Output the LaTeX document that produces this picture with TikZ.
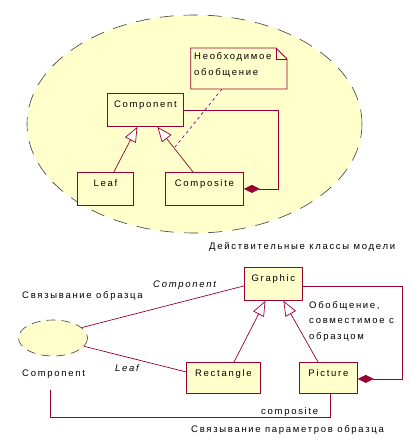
\documentclass[tikz,border=0pt]{standalone}
\usepackage{fontspec}
\setmainfont{Liberation Sans}[LetterSpace=18]
\usetikzlibrary{arrows.meta,shapes.geometric}
\definecolor{umlred}{RGB}{150,0,50}
\definecolor{umlfill}{RGB}{255,255,204}
\definecolor{edge}{RGB}{60,60,60}
\tikzset{
  cls/.style={draw=umlred, fill=umlfill, line width=0.8pt, inner xsep=0pt, inner ysep=0pt,
     text height=14pt, font=\fontsize{9.5}{11}\selectfont, anchor=north west},
  lnk/.style={draw=umlred, line width=0.7pt},
  gen/.style={lnk, -{Triangle[open, fill=white, length=15pt, width=12pt]}},
  compo/.style={lnk, {Diamond[fill=umlred, length=16pt, width=8pt]}-},
  txt/.style={font=\fontsize{9.5}{11}\selectfont, inner sep=0pt},
  itxt/.style={font=\fontsize{9.5}{11}\selectfont\itshape, inner sep=0pt},
}
\begin{document}
\begin{tikzpicture}[x=1pt,y=-1pt]
\useasboundingbox (0,0) rectangle (411,441);
% big ellipse
\fill[umlfill] (194.5,124) ellipse[x radius=167.5, y radius=109];
\draw[edge, line width=0.6pt, dash pattern=on 14pt off 10pt] (194.5,124) ellipse[x radius=167.5, y radius=109];
% note
\draw[umlred, line width=0.8pt, fill=umlfill] (190.7,48) -- (276,48) -- (287,59) -- (287,89) -- (190.7,89) -- cycle;
\draw[umlred, line width=0.6pt] (276,48) -- (276,59) -- (287,59);
\node[txt, anchor=north west, align=left, font=\fontsize{9.5}{16}\selectfont] (note) at (194,52.5) {Необходимое\\обобщение};
\coordinate (notebot) at (222,89);
% classes top
\node[cls, minimum width=76pt, minimum height=33pt, text depth=19pt] (component) at (107,93) {Component};
\node[cls, minimum width=56pt, minimum height=32pt, text depth=19pt] (leaf) at (77,172) {Leaf};
\node[cls, minimum width=78pt, minimum height=32pt, text depth=19pt] (composite) at (165,172) {Composite};
\coordinate (c1) at (278,0);
\coordinate (dashend) at (175,147);
\draw[white, line width=1.4pt] (notebot) -- (dashend);
\draw[umlred, line width=0.7pt, dash pattern=on 3pt off 3pt] (notebot) -- (dashend);
\draw[gen] ([xshift=-20pt]leaf.north east) -- ([xshift=-8pt]component.south);
\draw[gen] ([xshift=28pt]composite.north west) -- ([xshift=12pt]component.south);
\draw[compo] (composite.east) -- (composite.east -| c1) |- (component.east);
\node[txt, anchor=base west] (cap1) at (209,249) {Действительные классы модели};
% bottom part
\node[cls, minimum width=58pt, minimum height=33pt, text depth=19pt] (graphic) at (244,267) {Graphic};
\node[cls, minimum width=74pt, minimum height=31pt, text depth=17pt] (rect) at (186,362) {Rectangle};
\node[cls, minimum width=58pt, minimum height=31pt, text depth=17pt] (picture) at (299,362) {Picture};
\node[ellipse, minimum width=69pt, minimum height=36pt, fill=umlfill, inner sep=0pt] (param) at (53,338) {};
\draw[edge, line width=0.6pt, dash pattern=on 9pt off 6pt] (53,338) ellipse[x radius=34.5, y radius=18];
\node[txt, anchor=base west] (plabel) at (22,376) {Component};
\node[txt, anchor=base west] (bind1) at (22,298) {Связывание образца};
\node[itxt, anchor=base west] (rolec) at (153,287) {Component};
\node[itxt, anchor=base west] (rolel) at (115,371) {Leaf};
\draw[lnk] (param.20) -- ([yshift=-2pt]graphic.west);
\draw[lnk] (param.-15) -- ([yshift=6pt]rect.west);
\draw[gen] ([xshift=48pt]rect.north west) -- ([xshift=-8pt]graphic.south);
\draw[gen] ([xshift=19pt]picture.north west) -- ([xshift=10pt]graphic.south);
\coordinate (c2) at (402,0);
\draw[compo] ([yshift=-1pt]picture.east) -- ([yshift=-1pt]picture.east -| c2) |- ([yshift=-2pt]graphic.east);
\node[txt, anchor=north west, align=left, font=\fontsize{9.5}{15.5}\selectfont] (gtext) at (309,301) {Обобщение,\\совместимое с\\образцом};
\coordinate (c3) at (50,417);
\draw[lnk] (50,390) -- (c3) -| ([xshift=31pt]picture.south west);
\node[txt, anchor=base west] (comptxt) at (261,414) {composite};
\node[txt, anchor=base west] (bind2) at (191,432) {Связывание параметров образца};
\end{tikzpicture}
\end{document}
